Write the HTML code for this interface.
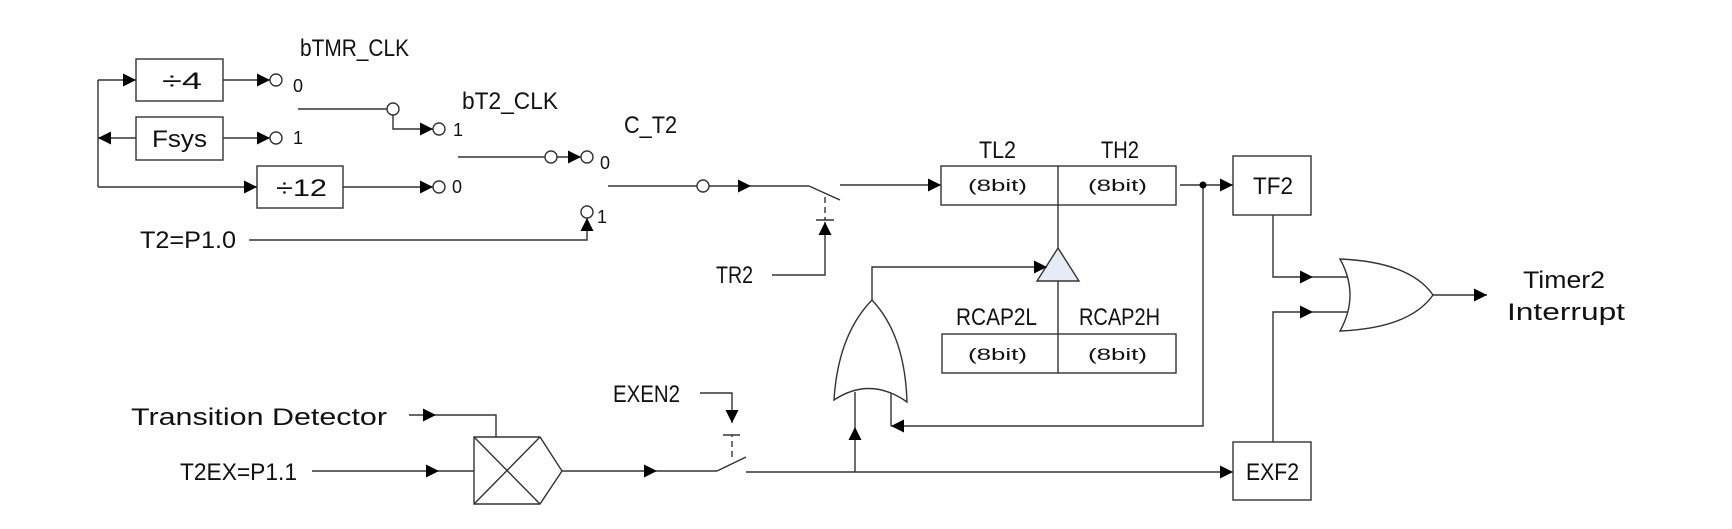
<!DOCTYPE html>
<html><head><meta charset="utf-8"><style>
html,body{margin:0;padding:0;background:#fff;}
svg{display:block;}
text{font-family:"Liberation Sans",sans-serif;fill:#111;}
</style></head><body>
<svg width="1732" height="529" viewBox="0 0 1732 529" xmlns="http://www.w3.org/2000/svg">
<defs>
<marker id="a" markerUnits="userSpaceOnUse" markerWidth="14" markerHeight="14" refX="13" refY="6.5" orient="auto">
<path d="M0,0 L13,6.5 L0,13 z" fill="#000"/>
</marker>
</defs>
<g stroke="#333" stroke-width="1.4" fill="none">
<rect x="136" y="59" width="87" height="42"/>
<rect x="136" y="117" width="87" height="43"/>
<rect x="257" y="166" width="86" height="42"/>
<line x1="98" y1="80" x2="98" y2="187"/>
<line x1="98" y1="80" x2="136" y2="80" marker-end="url(#a)"/>
<line x1="136" y1="138" x2="98" y2="138" marker-end="url(#a)"/>
<line x1="98" y1="187" x2="257" y2="187" marker-end="url(#a)"/>
<line x1="223" y1="80" x2="270" y2="80" marker-end="url(#a)"/>
<circle cx="276" cy="80" r="6"/>
<line x1="223" y1="138" x2="270" y2="138" marker-end="url(#a)"/>
<circle cx="276" cy="138" r="6"/>
<line x1="298" y1="109" x2="387" y2="109"/>
<circle cx="393" cy="109" r="6"/>
<polyline points="393,115 393,129 433,129" marker-end="url(#a)"/>
<circle cx="439" cy="129" r="6"/>
<line x1="343" y1="187" x2="433" y2="187" marker-end="url(#a)"/>
<circle cx="439" cy="187" r="6"/>
<line x1="458" y1="157" x2="545" y2="157"/>
<circle cx="551" cy="157" r="6"/>
<line x1="557" y1="157" x2="581" y2="157" marker-end="url(#a)"/>
<circle cx="587" cy="157" r="6"/>
<circle cx="587" cy="212" r="6"/>
<polyline points="249,240 587,240 587,218" marker-end="url(#a)"/>
<line x1="608" y1="186" x2="697" y2="186"/>
<circle cx="703" cy="186" r="6"/>
<line x1="709" y1="186" x2="751" y2="186" marker-end="url(#a)"/>
<line x1="751" y1="186" x2="809" y2="186"/>
<line x1="809" y1="186" x2="840" y2="200"/>
<line x1="825" y1="197" x2="825" y2="220" stroke-dasharray="6,4"/>
<line x1="816" y1="220" x2="834" y2="220"/>
<polyline points="772,275 825,275 825,222" marker-end="url(#a)"/>
<line x1="840" y1="185" x2="941" y2="185" marker-end="url(#a)"/>
<rect x="941" y="166" width="235" height="39"/>
<line x1="1058" y1="166" x2="1058" y2="205"/>
<line x1="1180" y1="185" x2="1233" y2="185" marker-end="url(#a)"/>
<rect x="1233" y="156" width="78" height="59"/>
<polyline points="1203,185 1203,426 891,426" marker-end="url(#a)"/>
<line x1="891" y1="426" x2="891" y2="392"/>
<line x1="1058" y1="205" x2="1058" y2="248"/>
<path d="M1058,248 L1079,281 L1037,281 Z" fill="#e6ecf6"/>
<line x1="1058" y1="281" x2="1058" y2="334"/>
<rect x="942" y="334" width="234" height="39"/>
<line x1="1058" y1="334" x2="1058" y2="373"/>
<polyline points="872,300 872,267 1047,267" marker-end="url(#a)"/>
<path d="M834,400 Q838,335 872,300 Q905,335 907,402 Q870,376 834,400 Z" fill="#fff"/>
<line x1="855" y1="472" x2="855" y2="427" marker-end="url(#a)"/>
<line x1="855" y1="427" x2="855" y2="392"/>
<polyline points="409,415 436,415" marker-end="url(#a)"/>
<polyline points="436,415 496,415 496,437"/>
<line x1="312" y1="471" x2="439" y2="471" marker-end="url(#a)"/>
<line x1="439" y1="471" x2="474" y2="471"/>
<path d="M474,437 L540,437 L562,471 L540,504 L474,504 Z"/>
<line x1="474" y1="437" x2="540" y2="504"/>
<line x1="540" y1="437" x2="474" y2="504"/>
<line x1="562" y1="471" x2="657" y2="471" marker-end="url(#a)"/>
<line x1="657" y1="471" x2="717" y2="471"/>
<line x1="717" y1="471" x2="746" y2="457"/>
<line x1="732" y1="457" x2="732" y2="435" stroke-dasharray="6,4"/>
<line x1="723" y1="435" x2="740" y2="435"/>
<polyline points="700,393 732,393 732,423" marker-end="url(#a)"/>
<line x1="746" y1="472" x2="1233" y2="472" marker-end="url(#a)"/>
<rect x="1233" y="442" width="78" height="58"/>
<polyline points="1273,215 1273,277 1313,277" marker-end="url(#a)"/>
<line x1="1313" y1="277" x2="1352" y2="277"/>
<polyline points="1273,442 1273,312 1313,312" marker-end="url(#a)"/>
<line x1="1313" y1="312" x2="1352" y2="312"/>
<path d="M1340,259 Q1360,295 1340,331 Q1410,328 1433,295 Q1410,262 1340,259 Z" fill="#fff"/>
<line x1="1433" y1="295" x2="1487" y2="295" marker-end="url(#a)"/>
</g>
<circle cx="1203" cy="185" r="3.5" fill="#000"/>
<g font-size="24">
<text x="300" y="56" textLength="109" lengthAdjust="spacingAndGlyphs">bTMR_CLK</text>
<text x="462" y="109" textLength="96" lengthAdjust="spacingAndGlyphs">bT2_CLK</text>
<text x="624" y="133" textLength="53" lengthAdjust="spacingAndGlyphs">C_T2</text>
<text x="162" y="89" textLength="40" lengthAdjust="spacingAndGlyphs">÷4</text>
<text x="152" y="147" textLength="55" lengthAdjust="spacingAndGlyphs">Fsys</text>
<text x="276" y="196" textLength="51" lengthAdjust="spacingAndGlyphs">÷12</text>
<text x="140" y="248" textLength="96" lengthAdjust="spacingAndGlyphs">T2=P1.0</text>
<text x="716" y="283" textLength="37" lengthAdjust="spacingAndGlyphs">TR2</text>
<text x="979" y="158" textLength="37" lengthAdjust="spacingAndGlyphs">TL2</text>
<text x="1101" y="158" textLength="38" lengthAdjust="spacingAndGlyphs">TH2</text>
<text x="1253" y="194" textLength="40" lengthAdjust="spacingAndGlyphs">TF2</text>
<text x="956" y="325" textLength="81" lengthAdjust="spacingAndGlyphs">RCAP2L</text>
<text x="1079" y="325" textLength="81" lengthAdjust="spacingAndGlyphs">RCAP2H</text>
<text x="131" y="425" textLength="256" lengthAdjust="spacingAndGlyphs">Transition Detector</text>
<text x="180" y="480" textLength="117" lengthAdjust="spacingAndGlyphs">T2EX=P1.1</text>
<text x="613" y="402" textLength="67" lengthAdjust="spacingAndGlyphs">EXEN2</text>
<text x="1246" y="480" textLength="53" lengthAdjust="spacingAndGlyphs">EXF2</text>
<text x="1523" y="288" textLength="82" lengthAdjust="spacingAndGlyphs">Timer2</text>
<text x="1507" y="320" textLength="118" lengthAdjust="spacingAndGlyphs">Interrupt</text>
</g>
<g font-size="17">
<text x="968" y="191" textLength="59" lengthAdjust="spacingAndGlyphs">(8bit)</text>
<text x="1088" y="191" textLength="59" lengthAdjust="spacingAndGlyphs">(8bit)</text>
<text x="968" y="360" textLength="59" lengthAdjust="spacingAndGlyphs">(8bit)</text>
<text x="1088" y="360" textLength="59" lengthAdjust="spacingAndGlyphs">(8bit)</text>
</g>
<g font-size="18">
<text x="293" y="92">0</text>
<text x="293" y="144">1</text>
<text x="453" y="136">1</text>
<text x="452" y="193">0</text>
<text x="600" y="169">0</text>
<text x="597" y="223">1</text>
</g>
</svg>
</body></html>
